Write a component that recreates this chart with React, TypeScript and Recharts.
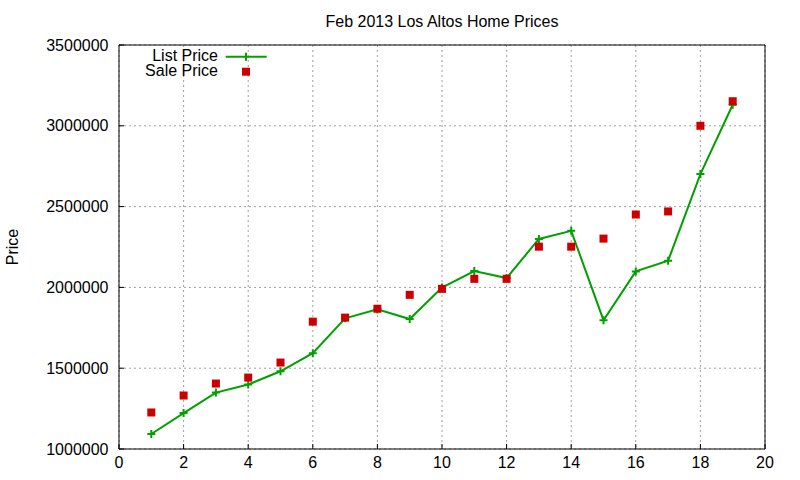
import React from "react";
import { Legend, Line, LineChart, CartesianGrid, XAxis, YAxis } from "recharts";

const months = [1, 2, 3, 4, 5, 6, 7, 8, 9, 10, 11, 12, 13, 14, 15, 16, 17, 18, 19];
const listPrices = [
  1093000, 1222000, 1349000, 1399000, 1481000, 1593000, 1809000, 1864000, 1804000, 1999000,
  2101000, 2058000, 2300000, 2350000, 1797000, 2099000, 2165000, 2701000, 3130000,
];
const salePrices = [
  1226000, 1331000, 1405000, 1442000, 1535000, 1788000, 1813000, 1868000, 1954000, 1991000,
  2053000, 2053000, 2252000, 2252000, 2302000, 2451000, 2470000, 3000000, 3152000,
];
const xTicks = [0, 2, 4, 6, 8, 10, 12, 14, 16, 18, 20];
const yTicks = [1000000, 1500000, 2000000, 2500000, 3000000, 3500000];

const data = months.map((m, i) => ({ x: m, list: listPrices[i], sale: salePrices[i] }));

const GREEN = "#00a000";
const RED = "#cc0000";

const PlusDot = (props: any) => {
  const { cx, cy, index } = props;
  return (
    <path
      key={`plus-${index}`}
      d={`M${cx - 4},${cy}H${cx + 4}M${cx},${cy - 4}V${cy + 4}`}
      stroke={GREEN}
      strokeWidth={2}
      fill="none"
    />
  );
};

const SquareDot = (props: any) => {
  const { cx, cy, index } = props;
  return <rect key={`sq-${index}`} x={cx - 4} y={cy - 4} width={8} height={8} fill={RED} />;
};

// gnuplot-style key, top left inside the plot
const renderLegend = () => (
  <svg width={150} height={45} style={{ display: "block" }}>
    <text x={88} y={20.7} textAnchor="end" fontSize={16} fill="#000">
      List Price
    </text>
    <line x1={95.7} x2={136.7} y1={16.7} y2={16.7} stroke={GREEN} strokeWidth={2} />
    <path d="M116,12.7V20.7" stroke={GREEN} strokeWidth={2} />
    <text x={88} y={36} textAnchor="end" fontSize={16} fill="#000">
      Sale Price
    </text>
    <rect x={112} y={27.7} width={8} height={8} fill={RED} />
  </svg>
);

export default function App() {
  return (
    <div
      style={{
        position: "absolute",
        left: 0,
        top: 0,
        background: "#fff",
        fontFamily: '"Liberation Sans", Arial, sans-serif',
      }}
    >
      <LineChart width={800} height={480} data={data} margin={{ top: 44, right: 34, bottom: 0, left: 0 }}>
        <CartesianGrid xAxisId="bottom" yAxisId="left" stroke="#a0a0a0" strokeDasharray="2 3" />
        <XAxis
          xAxisId="bottom"
          type="number"
          dataKey="x"
          domain={[0, 20]}
          ticks={xTicks}
          height={31}
          tickSize={-5}
          tickMargin={13}
          stroke="#000"
          tick={{ fill: "#000", fontSize: 16 }}
        />
        <XAxis
          xAxisId="top"
          orientation="top"
          type="number"
          dataKey="x"
          domain={[0, 20]}
          ticks={xTicks}
          height={1}
          tickSize={-5}
          tick={false}
          stroke="#000"
          label={{ value: "Feb 2013 Los Altos Home Prices", position: "top", offset: 17.5, fill: "#000", fontSize: 16 }}
        />
        <YAxis
          yAxisId="left"
          type="number"
          domain={[1000000, 3500000]}
          ticks={yTicks}
          width={119}
          tickSize={-5}
          tickMargin={15.5}
          stroke="#000"
          tick={{ fill: "#000", fontSize: 16 }}
          label={{
            value: "Price",
            angle: -90,
            position: "insideLeft",
            offset: 12,
            fill: "#000",
            fontSize: 16,
            style: { textAnchor: "middle" },
          }}
        />
        <YAxis
          yAxisId="right"
          orientation="right"
          type="number"
          domain={[1000000, 3500000]}
          allowDataOverflow
          ticks={yTicks}
          width={1}
          tickSize={-5}
          tick={false}
          stroke="#000"
        />
        <Legend
          layout="vertical"
          align="center"
          verticalAlign="middle"
          content={renderLegend}
          wrapperStyle={{ top: 40, left: 130, width: 150, height: 45 }}
        />
        <Line
          xAxisId="bottom"
          yAxisId="left"
          dataKey="list"
          name="List Price"
          stroke={GREEN}
          strokeWidth={2}
          dot={PlusDot}
          activeDot={false}
          isAnimationActive={false}
        />
        <Line
          xAxisId="top"
          yAxisId="right"
          dataKey="sale"
          name="Sale Price"
          stroke="none"
          dot={SquareDot}
          activeDot={false}
          isAnimationActive={false}
        />
      </LineChart>
    </div>
  );
}
